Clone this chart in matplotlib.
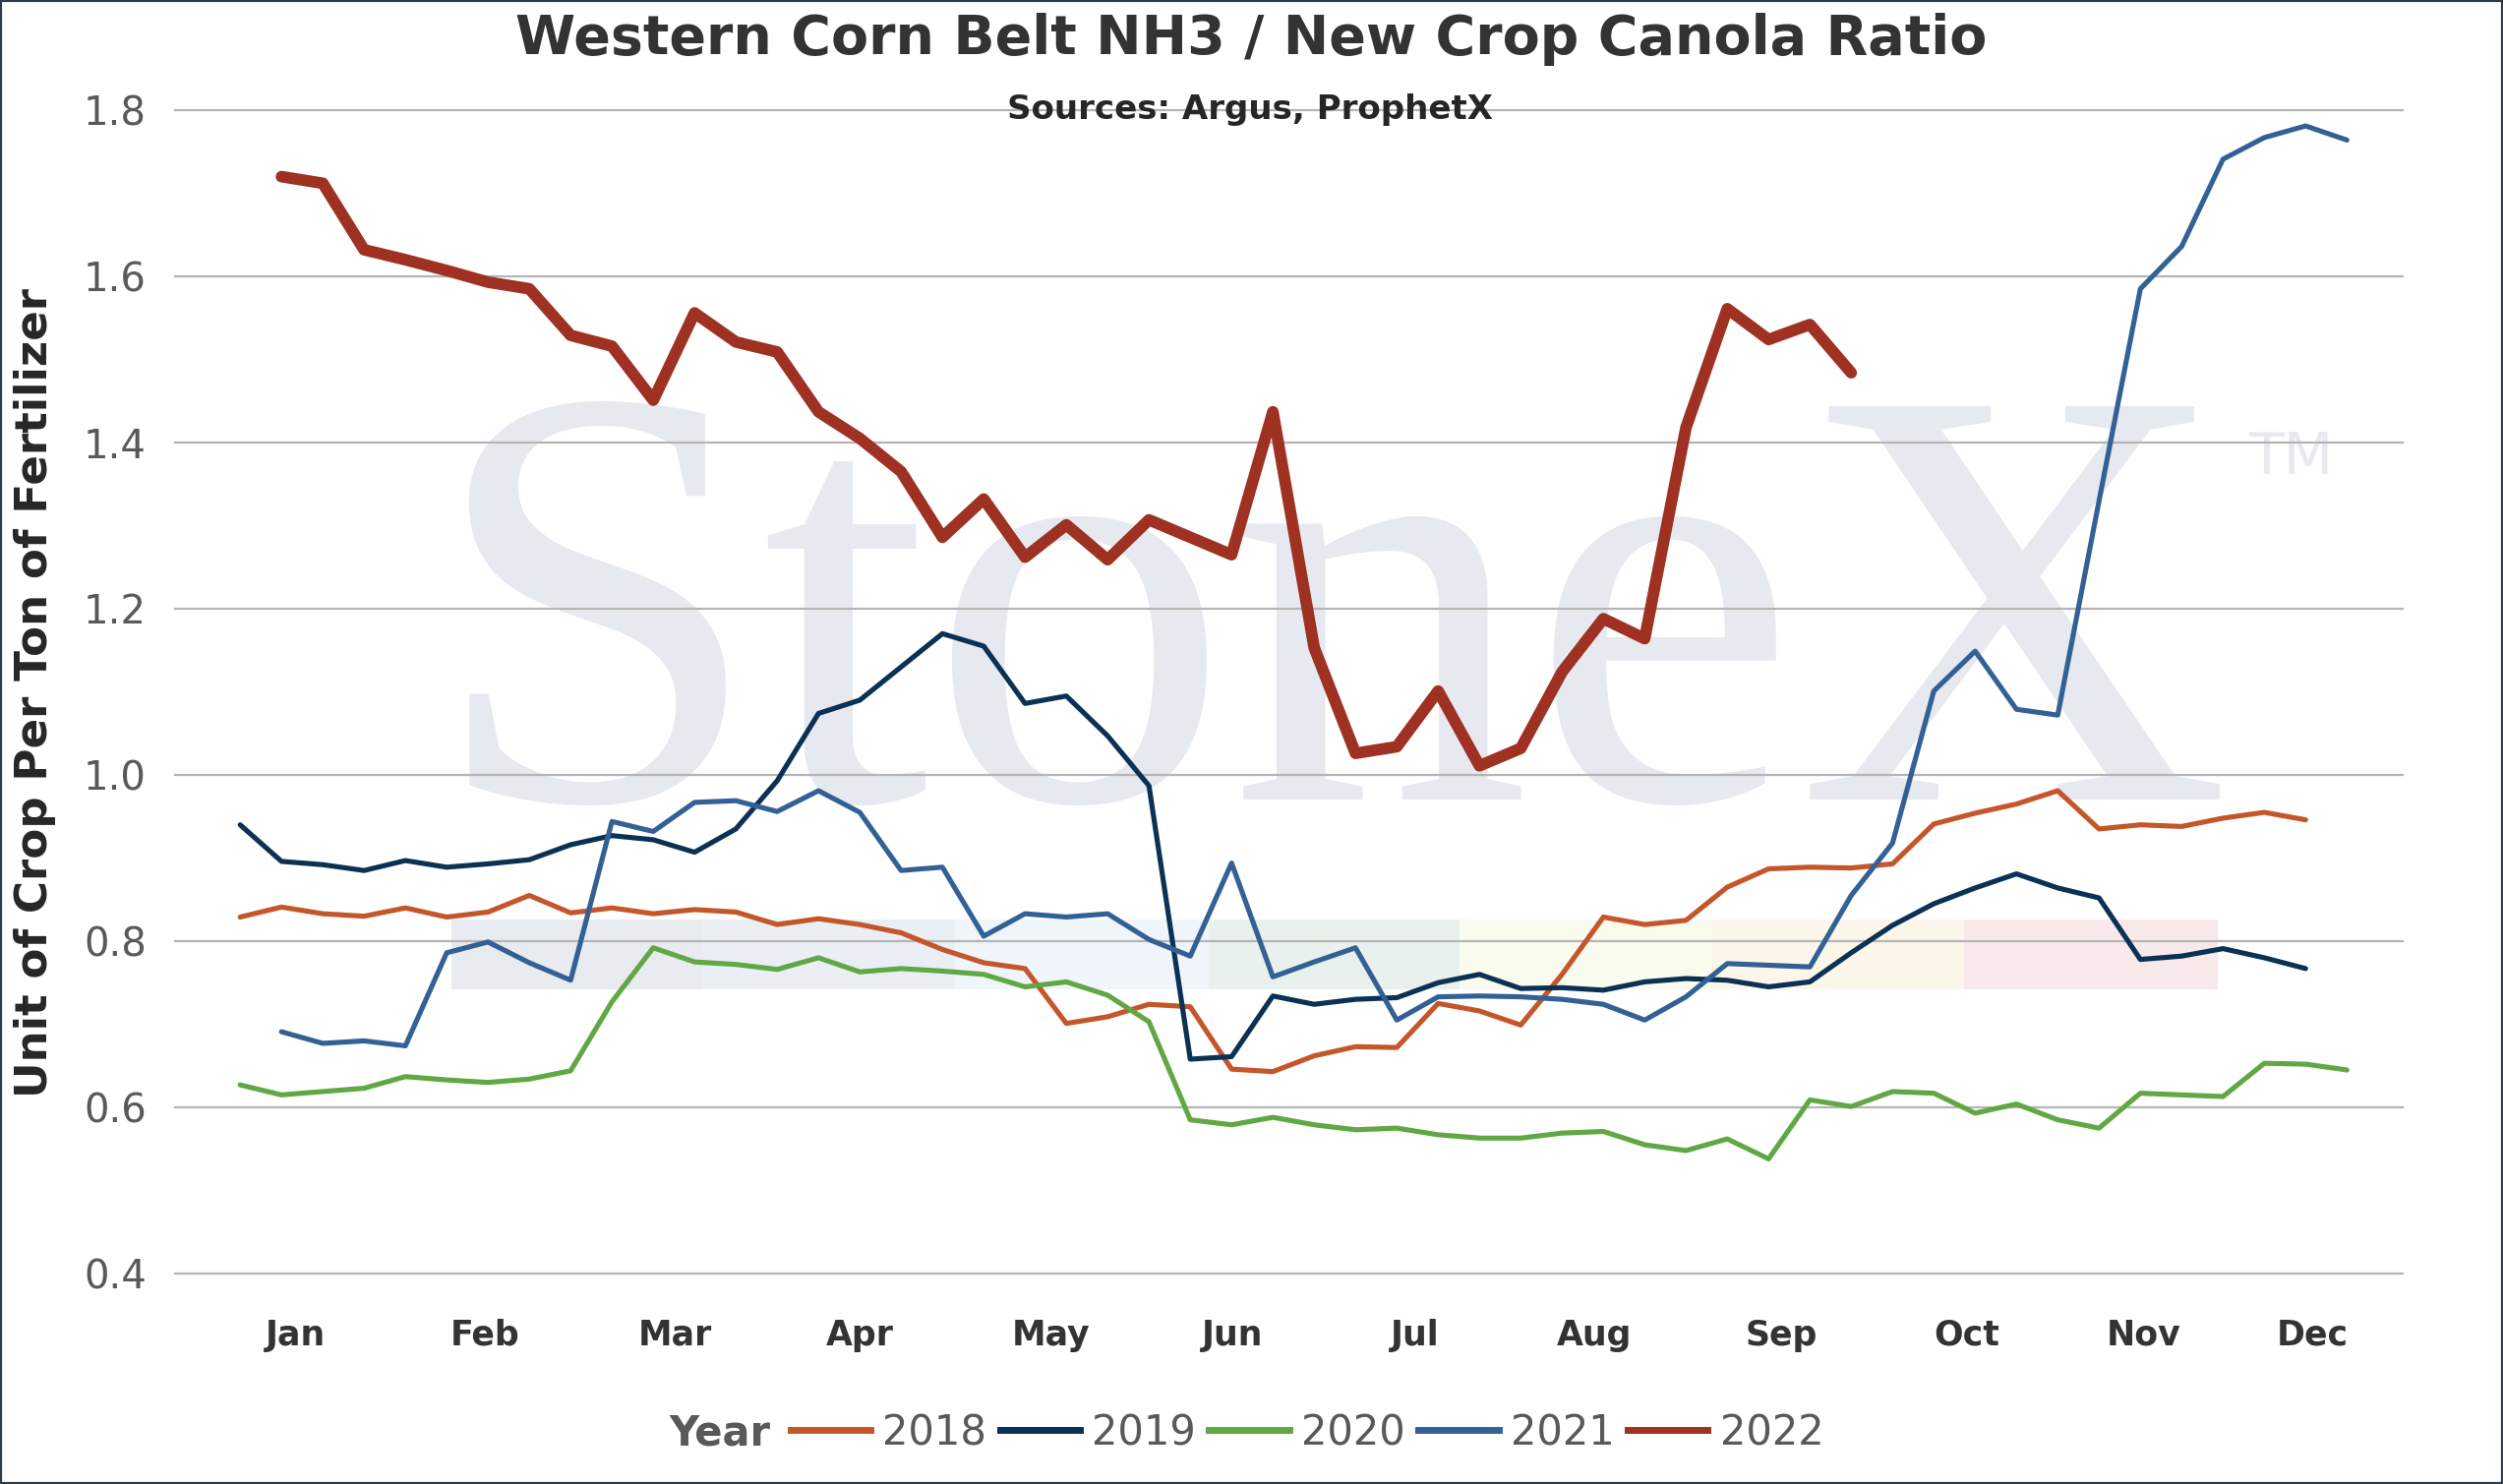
import matplotlib
matplotlib.use("Agg")
import matplotlib.pyplot as plt
from matplotlib.patches import Rectangle
from matplotlib.lines import Line2D

# weekly ratio values, week index 0..51
years = ["2018", "2019", "2020", "2021", "2022"]
colors = ["#c4562a", "#0b3154", "#61a844", "#336195", "#9e3122"]

start_2018 = 0
vals_2018 = [0.829, 0.841, 0.833, 0.830, 0.840, 0.829, 0.835, 0.855, 0.834, 0.840,
             0.833, 0.838, 0.835, 0.820, 0.827, 0.820, 0.810, 0.790, 0.774, 0.767,
             0.701, 0.709, 0.724, 0.721, 0.646, 0.643, 0.662, 0.673, 0.672, 0.725,
             0.716, 0.699, 0.760, 0.829, 0.820, 0.825, 0.865, 0.887, 0.889, 0.888,
             0.893, 0.941, 0.954, 0.965, 0.981, 0.935, 0.940, 0.938, 0.948, 0.955, 0.946]

start_2019 = 0
vals_2019 = [0.940, 0.896, 0.892, 0.885, 0.897, 0.889, 0.893, 0.898, 0.916, 0.927,
             0.922, 0.907, 0.935, 0.993, 1.074, 1.090, 1.130, 1.170, 1.155, 1.086,
             1.095, 1.047, 0.987, 0.658, 0.661, 0.734, 0.724, 0.730, 0.732, 0.750,
             0.760, 0.743, 0.744, 0.741, 0.751, 0.755, 0.753, 0.745, 0.751, 0.786,
             0.819, 0.845, 0.864, 0.881, 0.864, 0.852, 0.778, 0.782, 0.791, 0.780, 0.767]

start_2020 = 0
vals_2020 = [0.627, 0.615, 0.619, 0.623, 0.637, 0.633, 0.630, 0.634, 0.644, 0.727,
             0.792, 0.775, 0.772, 0.766, 0.780, 0.763, 0.767, 0.764, 0.760, 0.745,
             0.751, 0.735, 0.703, 0.585, 0.579, 0.588, 0.579, 0.573, 0.575, 0.567,
             0.563, 0.563, 0.569, 0.571, 0.555, 0.548, 0.562, 0.538, 0.609, 0.601,
             0.619, 0.617, 0.593, 0.604, 0.585, 0.575, 0.617, 0.615, 0.613, 0.653,
             0.652, 0.645]

start_2021 = 1
vals_2021 = [0.691, 0.677, 0.680, 0.674, 0.786, 0.799, 0.774, 0.753, 0.944, 0.932,
             0.967, 0.969, 0.956, 0.981, 0.955, 0.885, 0.889, 0.806, 0.833, 0.829,
             0.833, 0.802, 0.782, 0.894, 0.757, 0.775, 0.792, 0.705, 0.733, 0.734,
             0.733, 0.730, 0.724, 0.705, 0.733, 0.773, 0.771, 0.769, 0.855, 0.918,
             1.101, 1.149, 1.079, 1.072, 1.330, 1.585, 1.636, 1.741, 1.767, 1.781, 1.764]

start_2022 = 1
vals_2022 = [1.720, 1.712, 1.632, 1.620, 1.607, 1.593, 1.585, 1.529, 1.516, 1.451,
             1.556, 1.521, 1.509, 1.437, 1.405, 1.365, 1.286, 1.332, 1.262, 1.301,
             1.259, 1.307, 1.286, 1.265, 1.437, 1.153, 1.026, 1.034, 1.101, 1.011,
             1.032, 1.124, 1.188, 1.164, 1.418, 1.561, 1.524, 1.542, 1.484]

months = ["Jan", "Feb", "Mar", "Apr", "May", "Jun", "Jul", "Aug", "Sep", "Oct", "Nov", "Dec"]
month_pos = [1.33, 5.93, 10.52, 15.0, 19.63, 24.03, 28.43, 32.79, 37.31, 41.79, 46.08, 50.17]
yticks = [0.4, 0.6, 0.8, 1.0, 1.2, 1.4, 1.6, 1.8]

series = [(start_2018, vals_2018), (start_2019, vals_2019), (start_2020, vals_2020),
          (start_2021, vals_2021), (start_2022, vals_2022)]
widths = [3.7, 3.7, 3.7, 3.7, 8.5]

W, H = 2545, 1509
fig = plt.figure(figsize=(W / 100, H / 100), dpi=100)
fig.patch.set_facecolor("white")
ax = fig.add_axes([178 / W, 1 - 1295 / H, (2443 - 178) / W, (1295 - 112) / H])
ax.set_facecolor("none")

# watermark colour strip and logo
band_edges = [459, 714, 971, 1229, 1484, 1741, 1997, 2255]
band_cols = ["#e8ebf0", "#ebeff5", "#eff5fa", "#e8f1ec", "#fafbef", "#fdf6ea", "#f8e9eb"]
for i, c in enumerate(band_cols):
    x0 = band_edges[i] / W
    ax.add_patch(Rectangle((x0, 1 - 1006 / H), (band_edges[i + 1] - band_edges[i]) / W,
                           71 / H, transform=fig.transFigure, color=c, zorder=0.1,
                           clip_on=False, lw=0))
ax.text(435 / W, 1 - 813 / H, "StoneX", transform=fig.transFigure, fontsize=440,
        family="Liberation Serif", color="#e6e9ef", ha="left", va="baseline", zorder=0.2)
ax.text(2286 / W, 1 - 482 / H, "TM", transform=fig.transFigure, fontsize=42,
        color="#e6e9ef", ha="left", va="baseline", zorder=0.2)

for (st, v), col, lw, yr in zip(series, colors, widths, years):
    x = list(range(st, st + len(v)))
    ax.plot(x, v, color=col, lw=lw, solid_capstyle="round", zorder=2, label=yr)

ax.set_xlim(-1.576, 52.35)
ax.set_ylim(0.4, 1.8)
ax.set_yticks(yticks)
ax.set_yticklabels([f"{t:.1f}" for t in yticks])
ax.set_xticks(month_pos)
ax.set_xticklabels(months)
ax.set_axisbelow(True)
ax.yaxis.grid(True, color="#b5b5b5", lw=1.6)
for s in ax.spines.values():
    s.set_visible(False)
ax.tick_params(axis="y", length=0, pad=21, labelsize=29, labelcolor="#595959")
ax.tick_params(axis="x", length=0, pad=33, labelsize=25, labelcolor="#333333")
for lab in ax.get_xticklabels():
    lab.set_fontweight("bold")
for gl in ax.yaxis.get_gridlines():
    gl.set_clip_on(False)

fig.text(0.5, 1 - 40 / H, "Western Corn Belt NH3 / New Crop Canola Ratio", ha="center",
         va="center", fontsize=40, fontweight="bold", color="#333333")
fig.text(1271 / W, 1 - 112 / H, "Sources: Argus, ProphetX", ha="center", va="center",
         fontsize=24.5, fontweight="bold", color="#262626")
fig.text(36 / W, 1 - 705 / H, "Unit of Crop Per Ton of Fertilizer", rotation=90,
         ha="center", va="center", fontsize=32.5, fontweight="bold", color="#262626")

handles = [Line2D([], [], color=c, lw=5) for c in colors]
leg = fig.legend(handles, years, loc="center", bbox_to_anchor=(1329 / W, 1 - 1457 / H),
                 ncol=5, frameon=False, fontsize=30, handlelength=1.95, handletextpad=0.3,
                 columnspacing=0.32, borderpad=0, borderaxespad=0)
for t in leg.get_texts():
    t.set_color("#595959")
fig.text(680 / W, 1 - 1457 / H, "Year", ha="left", va="center", fontsize=30,
         fontweight="bold", color="#595959")

fig.patches.append(Rectangle((0, 0), 1, 1, transform=fig.transFigure, fill=False,
                             edgecolor="#2f3b48", lw=3))

fig.savefig("out.png", dpi=100)
